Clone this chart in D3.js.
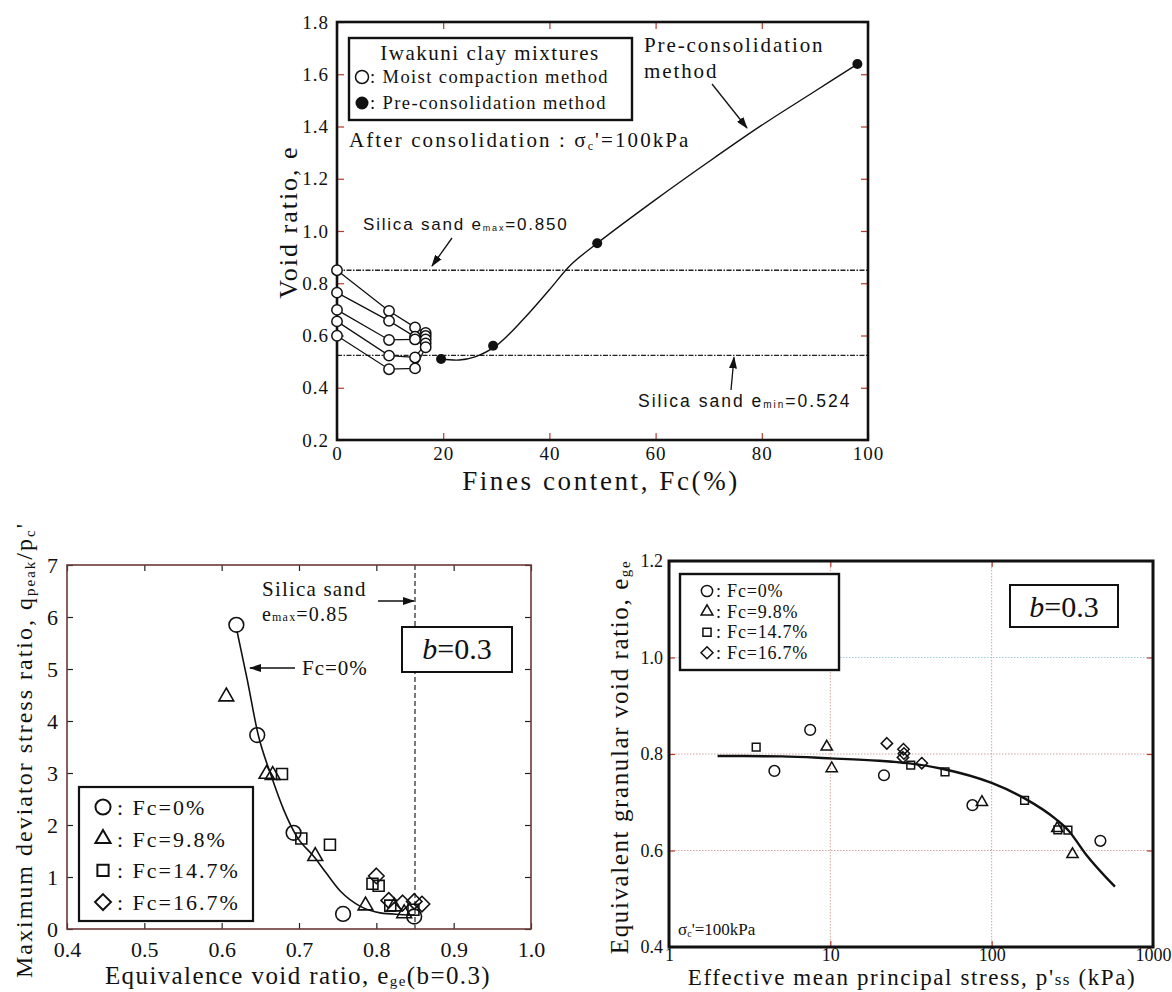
<!DOCTYPE html>
<html>
<head>
<meta charset="utf-8">
<script src="https://cdn.jsdelivr.net/npm/d3@7"></script>
<style>
body{margin:0;background:#fff;}
svg text{font-family:"Liberation Serif","Times New Roman",serif;fill:#111;}
svg .sans{font-family:"Liberation Sans",Arial,sans-serif;}
</style>
</head>
<body>
<div id="chart"></div>
<script>
const w = 1172;
const h = 992;

// ---- top panel: void ratio vs fines content ----
const fcMoist = [0, 9.8, 14.7, 16.7];
const moistA = [0.850, 0.694, 0.631, 0.610];
const moistB = [0.764, 0.656, 0.595, 0.598];
const moistC = [0.698, 0.583, 0.585, 0.585];
const moistD = [0.654, 0.523, 0.516, 0.570];
const moistE = [0.599, 0.471, 0.474, 0.555];
const fcPre = [19.6, 29.4, 49, 98];
const ePre = [0.510, 0.561, 0.953, 1.639];
const preCurveFc = [19.6, 23, 26, 30, 35, 40, 44, 49, 60, 70, 80, 90, 98];
const preCurveE = [0.510, 0.506, 0.518, 0.561, 0.660, 0.775, 0.870, 0.953, 1.120, 1.265, 1.405, 1.535, 1.639];
const sandEmax = 0.850;
const sandEmin = 0.524;
const topXTicks = [0, 20, 40, 60, 80, 100];
const topYTicks = [0.2, 0.4, 0.6, 0.8, 1.0, 1.2, 1.4, 1.6, 1.8];

// ---- bottom left: q/p vs equivalent void ratio ----
const qCircE = [0.619, 0.646, 0.693, 0.757, 0.849];
const qCircQ = [5.85, 3.73, 1.85, 0.29, 0.24];
const qTriE = [0.606, 0.658, 0.666, 0.721, 0.786, 0.823, 0.836];
const qTriQ = [4.47, 2.98, 2.96, 1.40, 0.45, 0.43, 0.30];
const qSqE = [0.678, 0.703, 0.740, 0.795, 0.803, 0.818, 0.848];
const qSqQ = [2.98, 1.74, 1.62, 0.87, 0.83, 0.45, 0.37];
const qDiaE = [0.800, 0.816, 0.834, 0.849, 0.859];
const qDiaQ = [1.02, 0.55, 0.50, 0.53, 0.48];
const qFitE = [0.620, 0.633, 0.647, 0.664, 0.680, 0.697, 0.720, 0.735, 0.754, 0.780, 0.805, 0.830, 0.850];
const qFitQ = [5.72, 4.80, 3.75, 2.95, 2.30, 1.78, 1.38, 1.08, 0.72, 0.43, 0.31, 0.28, 0.27];
const leftXTicks = [0.4, 0.5, 0.6, 0.7, 0.8, 0.9, 1.0];
const leftYTicks = [0, 1, 2, 3, 4, 5, 6, 7];

// ---- bottom right: e_ge vs p'ss ----
const pCirc = [4.5, 7.5, 21.5, 76, 472];
const eCirc = [0.765, 0.850, 0.756, 0.694, 0.620];
const pTri = [9.5, 10.2, 87, 255, 317];
const eTri = [0.815, 0.770, 0.700, 0.646, 0.592];
const pSq = [3.47, 31.5, 51.4, 160, 257, 297];
const eSq = [0.814, 0.777, 0.763, 0.704, 0.643, 0.642];
const pDia = [22.4, 28.4, 28.6, 28.2, 36.9];
const eDia = [0.822, 0.810, 0.801, 0.793, 0.781];
const pFit = [2, 5, 10, 20, 30, 50, 100, 160, 250, 300, 380, 581];
const eFit = [0.796, 0.795, 0.791, 0.786, 0.781, 0.769, 0.740, 0.708, 0.665, 0.641, 0.594, 0.525];
const rightXTicks = [1, 10, 100, 1000];
const rightYTicks = [0.4, 0.6, 0.8, 1.0, 1.2];
const legendLabels = ['Fc=0%', 'Fc=9.8%', 'Fc=14.7%', 'Fc=16.7%'];

const svg = d3.select('#chart')
.append('svg')
.attr('width', w)
.attr('height', h);

// arrow head
svg.append('defs').append('marker')
.attr('id', 'arrow')
.attr('markerUnits', 'userSpaceOnUse')
.attr('markerWidth', 12).attr('markerHeight', 8)
.attr('refX', 11).attr('refY', 4)
.attr('orient', 'auto')
.append('path').attr('d', 'M0,0 L12,4 L0,8 Z').attr('fill', '#111');

// custom 45deg diamond
const diamond45 = {
    draw(ctx, size){
        const r = Math.sqrt(size / 2);
        ctx.moveTo(0, -r); ctx.lineTo(r, 0); ctx.lineTo(0, r); ctx.lineTo(-r, 0); ctx.closePath();
    }
};
const symPath = (type, size) => d3.symbol().type(type).size(size)();

// draw axes on 4 sides with inward ticks
function frameAxes(g, x, y, opt){
    const [x0, x1] = x.range();
    const [y0, y1] = y.range();
    const style = sel => {
        sel.select('.domain').remove();
        sel.selectAll('line').attr('stroke', opt.tickColor).attr('stroke-width', 1.2);
        sel.selectAll('text').attr('font-family', '"Liberation Serif",serif')
        .attr('font-size', opt.fs).attr('fill', '#111').style('letter-spacing', opt.ls || '0px');
    };
    g.append('g').attr('transform', `translate(0,${y0})`)
    .call(d3.axisBottom(x).tickValues(opt.xt).tickSize(-opt.ts).tickPadding(opt.xp).tickFormat(opt.xf))
    .call(style);
    g.append('g').attr('transform', `translate(0,${y1})`)
    .call(d3.axisTop(x).tickValues(opt.xt).tickSize(-opt.ts).tickFormat(''))
    .call(style);
    g.append('g').attr('transform', `translate(${x0},0)`)
    .call(d3.axisLeft(y).tickValues(opt.yt).tickSize(-opt.ts).tickPadding(opt.yp).tickFormat(opt.yf))
    .call(style);
    g.append('g').attr('transform', `translate(${x1},0)`)
    .call(d3.axisRight(y).tickValues(opt.yt).tickSize(-opt.ts).tickFormat(''))
    .call(style);
    g.append('rect')
    .attr('x', x0).attr('y', y1).attr('width', x1 - x0).attr('height', y0 - y1)
    .attr('fill', 'none').attr('stroke', opt.frameColor).attr('stroke-width', opt.fw);
}

function arrow(g, x1, y1, x2, y2){
    g.append('line').attr('x1', x1).attr('y1', y1).attr('x2', x2).attr('y2', y2)
    .attr('stroke', '#111').attr('stroke-width', 1.3).attr('marker-end', 'url(#arrow)');
}

//================ TOP PANEL ================
const topP = svg.append('g');
const xT = d3.scaleLinear([0, 100], [337, 868]);
const yT = d3.scaleLinear([0.2, 1.8], [440, 22]);

// sand limits
[sandEmax, sandEmin].forEach(v => {
    topP.append('line').attr('x1', xT(0)).attr('x2', xT(100)).attr('y1', yT(v)).attr('y2', yT(v))
    .attr('stroke', '#222').attr('stroke-width', 1.4).attr('stroke-dasharray', '5,1.5,1.5,1.5');
});

// moist compaction series
const moistSeries = [moistA, moistB, moistC, moistD, moistE];
const lineT = d3.line().x(d => xT(d[0])).y(d => yT(d[1]));
moistSeries.forEach(s => {
    topP.append('path').datum(d3.zip(fcMoist, s)).attr('d', lineT)
    .attr('fill', 'none').attr('stroke', '#111').attr('stroke-width', 1.3);
});
// pre-consolidation curve
topP.append('path').datum(d3.zip(preCurveFc, preCurveE))
.attr('d', lineT.curve(d3.curveCatmullRom))
.attr('fill', 'none').attr('stroke', '#111').attr('stroke-width', 1.4);

frameAxes(topP, xT, yT, {xt: topXTicks, yt: topYTicks, ts: 7, xp: 7, yp: 8, fs: 19, ls: '1px',
    xf: d3.format('d'), yf: d3.format('.1f'), tickColor: '#b8392b', frameColor: '#111', fw: 2.6});

moistSeries.forEach(s => {
    topP.selectAll(null).data(d3.zip(fcMoist, s)).enter().append('circle')
    .attr('cx', d => xT(d[0])).attr('cy', d => yT(d[1])).attr('r', 5.2)
    .attr('fill', '#fff').attr('stroke', '#111').attr('stroke-width', 1.5);
});
topP.selectAll(null).data(d3.zip(fcPre, ePre)).enter().append('circle')
.attr('cx', d => xT(d[0])).attr('cy', d => yT(d[1])).attr('r', 5)
.attr('fill', '#111');

// legend
topP.append('rect').attr('x', 349).attr('y', 38).attr('width', 283).attr('height', 82)
.attr('fill', '#fff').attr('stroke', '#111').attr('stroke-width', 2.4);
topP.append('text').attr('x', 490).attr('y', 60).attr('text-anchor', 'middle')
.attr('font-size', 21).style('letter-spacing', '1.5px').text('Iwakuni clay mixtures');
topP.append('circle').attr('cx', 362).attr('cy', 77).attr('r', 6.5).attr('fill', '#fff').attr('stroke', '#111').attr('stroke-width', 1.5);
topP.append('text').attr('x', 370).attr('y', 83).attr('font-size', 18.5).style('letter-spacing', '1.4px').text(': Moist compaction method');
topP.append('circle').attr('cx', 362).attr('cy', 103).attr('r', 6.5).attr('fill', '#111');
topP.append('text').attr('x', 370).attr('y', 109).attr('font-size', 18.5).style('letter-spacing', '1.4px').text(': Pre-consolidation method');

const after = topP.append('text').attr('x', 349).attr('y', 147).attr('font-size', 21).style('letter-spacing', '2.1px');
after.append('tspan').text('After consolidation : σ');
after.append('tspan').attr('font-size', 12).attr('dy', 3).text('c');
after.append('tspan').attr('dy', -3).text("'=100kPa");

topP.append('text').attr('x', 644).attr('y', 52).attr('font-size', 21).style('letter-spacing', '1.9px').text('Pre-consolidation');
topP.append('text').attr('x', 644).attr('y', 78).attr('font-size', 21).style('letter-spacing', '1.9px').text('method');
arrow(topP, 712, 84, 747, 128);

const tmax = topP.append('text').attr('class', 'sans').attr('x', 363).attr('y', 230).attr('font-size', 17).style('letter-spacing', '1.8px');
tmax.append('tspan').text('Silica sand e');
tmax.append('tspan').attr('font-size', 9).attr('dy', 1).text('max');
tmax.append('tspan').attr('dy', -1).text('=0.850');
arrow(topP, 452, 238, 432, 266);

const tmin = topP.append('text').attr('class', 'sans').attr('x', 638).attr('y', 407).attr('font-size', 17.5).style('letter-spacing', '2px');
tmin.append('tspan').text('Silica sand e');
tmin.append('tspan').attr('font-size', 10).attr('dy', 1).text('min');
tmin.append('tspan').attr('dy', -1).text('=0.524');
arrow(topP, 731, 390, 734, yT(sandEmin) + 2);

topP.append('text').attr('transform', 'translate(297,222) rotate(-90)').attr('text-anchor', 'middle')
.attr('font-size', 26).style('letter-spacing', '2px').text('Void ratio, e');
topP.append('text').attr('x', 601).attr('y', 490).attr('text-anchor', 'middle')
.attr('font-size', 27).style('letter-spacing', '2.6px').text('Fines content, Fc(%)');

//================ BOTTOM LEFT PANEL ================
const leftP = svg.append('g');
const xL = d3.scaleLinear([0.4, 1.0], [67, 531]);
const yL = d3.scaleLinear([0, 7], [929, 565]);

leftP.append('line').attr('x1', xL(0.85)).attr('x2', xL(0.85)).attr('y1', yL(7)).attr('y2', yL(0))
.attr('stroke', '#222').attr('stroke-width', 1.2).attr('stroke-dasharray', '5,3');

frameAxes(leftP, xL, yL, {xt: leftXTicks, yt: leftYTicks, ts: 6, xp: 12, yp: 9, fs: 22,
    xf: d3.format('.1f'), yf: d3.format('d'), tickColor: '#222', frameColor: '#6b3a36', fw: 1.6});

leftP.append('path').datum(d3.zip(qFitE, qFitQ))
.attr('d', d3.line().x(d => xL(d[0])).y(d => yL(d[1])).curve(d3.curveMonotoneX))
.attr('fill', 'none').attr('stroke', '#111').attr('stroke-width', 1.6);

const leftSets = [
    {e: qCircE, q: qCircQ, type: d3.symbolCircle, size: 170},
    {e: qTriE, q: qTriQ, type: d3.symbolTriangle, size: 95},
    {e: qSqE, q: qSqQ, type: d3.symbolSquare, size: 120},
    {e: qDiaE, q: qDiaQ, type: diamond45, size: 120}
];
leftSets.forEach(s => {
    leftP.selectAll(null).data(d3.zip(s.e, s.q)).enter().append('path')
    .attr('transform', d => `translate(${xL(d[0])},${yL(d[1])})`)
    .attr('d', symPath(s.type, s.size))
    .attr('fill', 'none').attr('stroke', '#111').attr('stroke-width', 1.6);
});

// legend
leftP.append('rect').attr('x', 79).attr('y', 787).attr('width', 174).attr('height', 134)
.attr('fill', '#fff').attr('stroke', '#111').attr('stroke-width', 2.2);
leftSets.forEach((s, i) => {
    const yy = 807 + i * 31.7;
    leftP.append('path').attr('transform', `translate(103,${yy})`).attr('d', symPath(s.type, s.size * 1.05))
    .attr('fill', 'none').attr('stroke', '#111').attr('stroke-width', 2);
    leftP.append('text').attr('x', 117).attr('y', yy + 8).attr('font-size', 22).style('letter-spacing', '2px')
    .text(': ' + legendLabels[i]);
});

leftP.append('text').attr('x', 262).attr('y', 596).attr('font-size', 21).style('letter-spacing', '1.2px').text('Silica sand');
const le = leftP.append('text').attr('x', 262).attr('y', 621).attr('font-size', 20).style('letter-spacing', '1.2px');
le.append('tspan').text('e');
le.append('tspan').attr('font-size', 12).text('max');
le.append('tspan').text('=0.85');
arrow(leftP, 378, 601, xL(0.85) - 1, 601);
leftP.append('text').attr('x', 302).attr('y', 675).attr('font-size', 21).style('letter-spacing', '1px').text('Fc=0%');
arrow(leftP, 295, 668, 250, 668);

leftP.append('rect').attr('x', 402).attr('y', 627).attr('width', 110).attr('height', 45)
.attr('fill', '#fff').attr('stroke', '#111').attr('stroke-width', 2);
const lb = leftP.append('text').attr('x', 457).attr('y', 659).attr('text-anchor', 'middle').attr('font-size', 30);
lb.append('tspan').attr('font-style', 'italic').text('b');
lb.append('tspan').text('=0.3');

const ly = leftP.append('text').attr('transform', 'translate(32,750) rotate(-90)').attr('text-anchor', 'middle')
.attr('font-size', 24).style('letter-spacing', '2px');
ly.append('tspan').text('Maximum deviator stress ratio, q');
ly.append('tspan').attr('font-size', 15).attr('dy', 3).text('peak');
ly.append('tspan').attr('dy', -3).text('/p');
ly.append('tspan').attr('font-size', 15).attr('dy', 3).text('c');
ly.append('tspan').attr('dy', -3).text("'");
const lx = leftP.append('text').attr('x', 298).attr('y', 984).attr('text-anchor', 'middle')
.attr('font-size', 25).style('letter-spacing', '1.4px');
lx.append('tspan').text('Equivalence void ratio, e');
lx.append('tspan').attr('font-size', 15).attr('dy', 2).text('ge');
lx.append('tspan').attr('dy', -2).text('(b=0.3)');

//================ BOTTOM RIGHT PANEL ================
const rightP = svg.append('g');
const xR = d3.scaleLog([1, 1000], [669, 1153]);
const yR = d3.scaleLinear([0.4, 1.2], [947, 561]);

// dotted grid
[10, 100].forEach(v => {
    rightP.append('line').attr('x1', xR(v)).attr('x2', xR(v)).attr('y1', yR(1.2)).attr('y2', yR(0.4))
    .attr('stroke', '#d2a59c').attr('stroke-width', 1).attr('stroke-dasharray', '1.5,1.5');
});
[0.6, 0.8, 1.0].forEach(v => {
    rightP.append('line').attr('x1', xR(1)).attr('x2', xR(1000)).attr('y1', yR(v)).attr('y2', yR(v))
    .attr('stroke', v === 1.0 ? '#9fcbe0' : '#cfa79f').attr('stroke-width', 1).attr('stroke-dasharray', '1.5,1.5');
});

frameAxes(rightP, xR, yR, {xt: rightXTicks, yt: rightYTicks, ts: 6, xp: 1, yp: 6, fs: 18,
    xf: d3.format('d'), yf: d3.format('.1f'), tickColor: '#b8392b', frameColor: '#111', fw: 3});

rightP.append('path').datum(d3.zip(pFit, eFit))
.attr('d', d3.line().x(d => xR(d[0])).y(d => yR(d[1])).curve(d3.curveMonotoneX))
.attr('fill', 'none').attr('stroke', '#111').attr('stroke-width', 2.4);

const rightSets = [
    {p: pCirc, e: eCirc, type: d3.symbolCircle, size: 90},
    {p: pTri, e: eTri, type: d3.symbolTriangle, size: 55},
    {p: pSq, e: eSq, type: d3.symbolSquare, size: 60},
    {p: pDia, e: eDia, type: diamond45, size: 65}
];
rightSets.forEach(s => {
    rightP.selectAll(null).data(d3.zip(s.p, s.e)).enter().append('path')
    .attr('transform', d => `translate(${xR(d[0])},${yR(d[1])})`)
    .attr('d', symPath(s.type, s.size))
    .attr('fill', 'none').attr('stroke', '#111').attr('stroke-width', 1.5);
});

// legend
rightP.append('rect').attr('x', 680).attr('y', 574).attr('width', 159).attr('height', 96)
.attr('fill', '#fff').attr('stroke', '#111').attr('stroke-width', 2.4);
rightSets.forEach((s, i) => {
    const yy = 591 + i * 20.6;
    rightP.append('path').attr('transform', `translate(707,${yy})`).attr('d', symPath(s.type, s.size * 1.1))
    .attr('fill', 'none').attr('stroke', '#111').attr('stroke-width', 1.5);
    rightP.append('text').attr('x', 716).attr('y', yy + 6).attr('font-size', 18).style('letter-spacing', '0.8px')
    .text(': ' + legendLabels[i]);
});

rightP.append('rect').attr('x', 1010).attr('y', 585).attr('width', 108).attr('height', 42)
.attr('fill', '#fff').attr('stroke', '#111').attr('stroke-width', 2);
const rb = rightP.append('text').attr('x', 1064).attr('y', 617).attr('text-anchor', 'middle').attr('font-size', 30);
rb.append('tspan').attr('font-style', 'italic').text('b');
rb.append('tspan').text('=0.3');

const rs = rightP.append('text').attr('x', 678).attr('y', 935).attr('font-size', 17);
rs.append('tspan').text('σ');
rs.append('tspan').attr('font-size', 10).attr('dy', 2).text('c');
rs.append('tspan').attr('dy', -2).text("'=100kPa");

const ry = rightP.append('text').attr('transform', 'translate(628,757) rotate(-90)').attr('text-anchor', 'middle')
.attr('font-size', 25).style('letter-spacing', '1.6px');
ry.append('tspan').text('Equivalent granular void ratio, e');
ry.append('tspan').attr('font-size', 15).attr('dy', 2).text('ge');
const rx = rightP.append('text').attr('x', 912).attr('y', 985).attr('text-anchor', 'middle')
.attr('font-size', 23).style('letter-spacing', '1.6px');
rx.append('tspan').text("Effective mean principal stress, p'");
rx.append('tspan').attr('font-size', 17).text('ss');
rx.append('tspan').text(' (kPa)');
</script>
</body>
</html>
